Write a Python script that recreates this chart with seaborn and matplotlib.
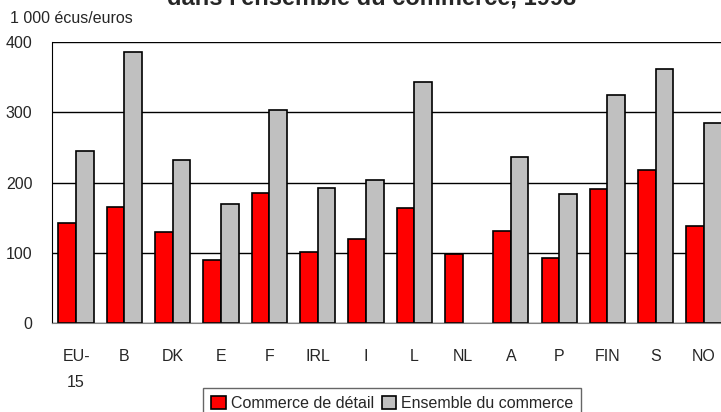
import pandas as pd
import numpy as np
import seaborn as sns
import matplotlib.pyplot as plt

# values (1 000 ecus/euros, 1998)
countries = ["EU-\n15", "B", "DK", "E", "F", "IRL", "I", "L", "NL", "A", "P", "FIN", "S", "NO"]
retail = [142, 165, 129, 89, 185, 101, 120, 164, 98, 131, 93, 191, 218, 138]
all_trade = [245, 386, 232, 170, 303, 192, 204, 343, np.nan, 237, 184, 325, 361, 285]
series = ["Commerce de détail", "Ensemble du commerce"]

df = pd.DataFrame({
    "pays": countries * 2,
    "valeur": retail + all_trade,
    "serie": [series[0]] * len(countries) + [series[1]] * len(countries),
})

sns.set_style("white")
plt.rcParams["font.family"] = ["Liberation Sans Narrow", "Liberation Sans", "DejaVu Sans"]
plt.rcParams["font.size"] = 11.5

fig = plt.figure(figsize=(7.21, 4.12), dpi=100)
ax = fig.add_axes([0.072, 0.216, 0.938, 0.682])

sns.barplot(data=df, x="pays", y="valeur", hue="serie", hue_order=series,
            palette=["#ff0000", "#c0c0c0"], width=0.73, edgecolor="black",
            linewidth=1.2, saturation=1, ax=ax, legend=True)

ax.set_ylim(0, 400)
ax.set_xlim(-0.5, len(countries) - 0.5)
ax.set_yticks([0, 100, 200, 300, 400])
ax.yaxis.grid(True, color="black", linewidth=1)
ax.set_axisbelow(True)
ax.set_xlabel("")
ax.set_ylabel("")

for s in ["top", "right"]:
    ax.spines[s].set_visible(False)
ax.spines["left"].set_color("black")
ax.spines["bottom"].set_color("#808080")

# ticks between categories, labels centred under each group
ax.set_xticks(np.arange(-0.5, len(countries), 1.0), minor=True)
ax.tick_params(axis="x", which="minor", length=6, color="#808080", direction="out")
ax.tick_params(axis="x", which="major", length=0, pad=18.5)
ax.tick_params(axis="y", length=6, color="black", direction="out", pad=8)
for lab in ax.get_xticklabels():
    lab.set_linespacing(1.9)
    lab.set_verticalalignment("top")

handles, labels = ax.get_legend_handles_labels()
ax.get_legend().remove()
fig.legend(handles, labels, loc="upper center", bbox_to_anchor=(0.544, 0.078),
           ncol=2, frameon=True, fancybox=False, edgecolor="#404040",
           handlelength=0.9, handleheight=0.9, handletextpad=0.3, columnspacing=0.5,
           borderpad=0.5)

fig.text(0.014, 0.954, "1 000 écus/euros", fontsize=11.5, ha="left", va="center")
fig.text(0.516, 0.988, "dans l'ensemble du commerce, 1998", fontsize=17,
         fontweight="bold", ha="center", va="baseline", family=["Liberation Sans", "DejaVu Sans"])

fig.savefig("out.png", dpi=100)
